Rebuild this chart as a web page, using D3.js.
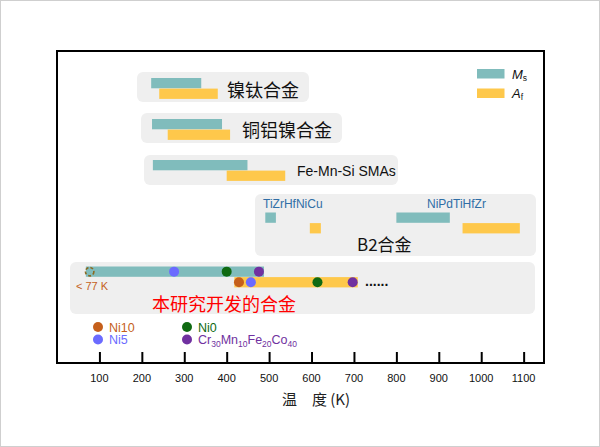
<!DOCTYPE html>
<html>
<head>
<meta charset="utf-8">
<script src="https://cdn.jsdelivr.net/npm/d3@7"></script>
<style>
  body { margin: 0; background: #fff; }
  svg { display: block; }
</style>
</head>
<body>
<svg id="chart" width="600" height="447"></svg>
<script>
// data (temperatures in K)
const groups = ["镍钛合金", "铜铝镍合金", "Fe-Mn-Si SMAs", "B2合金", "本研究开发的合金"];
const msRanges = [
  { group: "镍钛合金", start: 222, end: 340 },
  { group: "铜铝镍合金", start: 224, end: 389 },
  { group: "Fe-Mn-Si SMAs", start: 226, end: 449 },
  { group: "B2合金", start: 491, end: 516 },
  { group: "B2合金", start: 800, end: 926 },
  { group: "本研究开发的合金", start: 68, end: 488 }
];
const afRanges = [
  { group: "镍钛合金", start: 241, end: 379 },
  { group: "铜铝镍合金", start: 261, end: 408 },
  { group: "Fe-Mn-Si SMAs", start: 400, end: 538 },
  { group: "B2合金", start: 596, end: 622 },
  { group: "B2合金", start: 956, end: 1091 },
  { group: "本研究开发的合金", start: 418, end: 709 }
];
const alloys = ["Ni10", "Ni5", "Ni0", "Cr30Mn10Fe20Co40"];
const alloyMs = [77, 276, 400, 476];
const alloyAf = [429, 457, 614, 697];
const tickValues = [100, 200, 300, 400, 500, 600, 700, 800, 900, 1000, 1100];

// layout
const svg = d3.select("#chart");
const frame = { left: 57, right: 544, top: 51, bottom: 363 };
const x = d3.scaleLinear().domain([0, 1148]).range([frame.left, frame.right]);
const rowY = d3.scaleOrdinal(groups, [78, 119, 160, 212.5, 266.5]);
const barH = 10.3;
const panels = [
  { x0: 137, x1: 309, y0: 72, y1: 102 },
  { x0: 141, x1: 342, y0: 113, y1: 143 },
  { x0: 144, x1: 398, y0: 155, y1: 185 },
  { x0: 255, x1: 536, y0: 194, y1: 256 },
  { x0: 70, x1: 535, y0: 262, y1: 314 }
];
const msColor = "#80bcbc", afColor = "#fec84b";
const alloyColor = d3.scaleOrdinal(alloys, ["#c55f1b", "#6b6bff", "#0f6a12", "#7031a0"]);
const latin = "Liberation Sans, Arial, sans-serif";
const cjk = "Noto Sans CJK SC, sans-serif";

svg.append("rect").attr("x", 0.5).attr("y", 0.5).attr("width", 599).attr("height", 446)
  .attr("fill", "#fff").attr("stroke", "#cfcfcf");

svg.append("g").selectAll("rect").data(panels).join("rect")
  .attr("x", d => d.x0).attr("y", d => d.y0)
  .attr("width", d => d.x1 - d.x0).attr("height", d => d.y1 - d.y0)
  .attr("rx", 6).attr("fill", "#efefef");

// frame + axis
svg.append("rect").attr("x", frame.left).attr("y", frame.top)
  .attr("width", frame.right - frame.left).attr("height", frame.bottom - frame.top)
  .attr("fill", "none").attr("stroke", "#000").attr("stroke-width", 2);

const axis = d3.axisTop(x).tickValues(tickValues).tickSize(11).tickFormat("");
const gAxis = svg.append("g").attr("transform", `translate(0,${frame.bottom})`).call(axis);
gAxis.select(".domain").remove();
gAxis.selectAll(".tick line").attr("stroke", "#000").attr("stroke-width", 2);

svg.append("g").selectAll("text").data(tickValues).join("text")
  .attr("x", d => x(d)).attr("y", 382).attr("text-anchor", "middle")
  .attr("font-family", latin).attr("font-size", 11).attr("fill", "#111")
  .text(d => d);

svg.append("text").attr("x", 316).attr("y", 405).attr("text-anchor", "middle")
  .attr("font-family", cjk).attr("font-size", 15).attr("fill", "#222")
  .text("温\u3000度 (K)");

// bars
svg.append("g").selectAll("rect").data(msRanges).join("rect")
  .attr("x", d => x(d.start)).attr("y", d => rowY(d.group))
  .attr("width", d => x(d.end) - x(d.start)).attr("height", barH)
  .attr("fill", msColor);
svg.append("g").selectAll("rect").data(afRanges).join("rect")
  .attr("x", d => x(d.start)).attr("y", d => rowY(d.group) + barH + 0.3)
  .attr("width", d => x(d.end) - x(d.start)).attr("height", barH)
  .attr("fill", afColor);

// group labels
const labels = [
  { text: "镍钛合金", x: 227, y: 89, size: 18, font: cjk },
  { text: "铜铝镍合金", x: 242, y: 129, size: 18, font: cjk },
  { text: "Fe-Mn-Si SMAs", x: 297, y: 171, size: 14, font: latin },
  { text: "B2合金", x: 357, y: 243, size: 17, font: cjk }
];
svg.append("g").selectAll("text").data(labels).join("text")
  .attr("x", d => d.x).attr("y", d => d.y).attr("dominant-baseline", "central")
  .attr("font-family", d => d.font).attr("font-size", d => d.size).attr("fill", "#111")
  .text(d => d.text);

svg.append("text").attr("x", 263).attr("y", 207.5).attr("font-family", latin)
  .attr("font-size", 12).attr("fill", "#2f6ea6").text("TiZrHfNiCu");
svg.append("text").attr("x", 427).attr("y", 207.5).attr("font-family", latin)
  .attr("font-size", 12).attr("fill", "#2f6ea6").text("NiPdTiHfZr");

// this work: points
const r = 5;
const yMs = rowY(groups[4]) + barH / 2, yAf = rowY(groups[4]) + barH * 1.5 + 0.3;
const gPts = svg.append("g");
gPts.selectAll("circle.ms").data(alloys.slice(1)).join("circle")
  .attr("class", "ms").attr("cx", (d, i) => x(alloyMs[i + 1])).attr("cy", yMs)
  .attr("r", r).attr("fill", d => alloyColor(d));
gPts.append("circle").attr("cx", x(alloyMs[0])).attr("cy", yMs).attr("r", r - 0.8)
  .attr("fill", "none").attr("stroke", "#8a6a22").attr("stroke-width", 1.6)
  .attr("stroke-dasharray", "3,2");
gPts.selectAll("circle.af").data(alloys).join("circle")
  .attr("class", "af").attr("cx", (d, i) => x(alloyAf[i])).attr("cy", yAf)
  .attr("r", r).attr("fill", d => alloyColor(d));

svg.append("text").attr("x", 76).attr("y", 290).attr("font-family", latin)
  .attr("font-size", 11).attr("fill", "#c55f1b").text("< 77 K");
svg.append("text").attr("x", 365).attr("y", 286).attr("font-family", latin)
  .attr("font-size", 14).attr("font-weight", "bold").attr("fill", "#111").text("......");
svg.append("text").attr("x", 152).attr("y", 303).attr("dominant-baseline", "central")
  .attr("font-family", cjk).attr("font-size", 18).attr("fill", "#ff0000").text("本研究开发的合金");

// alloy legend
const legPos = [[98, 327], [98, 339.5], [187, 327], [187, 339.5]];
const gLeg = svg.append("g");
gLeg.selectAll("circle").data(alloys).join("circle")
  .attr("cx", (d, i) => legPos[i][0]).attr("cy", (d, i) => legPos[i][1])
  .attr("r", r).attr("fill", d => alloyColor(d));
gLeg.selectAll("text").data(alloys).join("text")
  .attr("x", (d, i) => legPos[i][0] + 11).attr("y", (d, i) => legPos[i][1] + 4.5)
  .attr("font-family", latin).attr("font-size", 12.5).attr("fill", d => alloyColor(d))
  .each(function (d) {
    const t = d3.select(this);
    const parts = d.match(/[A-Za-z]+|\d+/g);
    if (d.startsWith("Ni")) { t.text(d); return; }
    parts.forEach(p => {
      if (/\d/.test(p)) {
        t.append("tspan").attr("font-size", 8.5).attr("dy", 3).text(p);
      } else {
        t.append("tspan").attr("dy", -3).text(p);
      }
    });
    t.select("tspan").attr("dy", 0);
  });

// Ms / Af legend
const keys = [{ name: "M", sub: "s", color: msColor, y: 69 }, { name: "A", sub: "f", color: afColor, y: 88.5 }];
const gKey = svg.append("g");
gKey.selectAll("rect").data(keys).join("rect")
  .attr("x", 477).attr("y", d => d.y).attr("width", 27.5).attr("height", 9.5)
  .attr("fill", d => d.color);
gKey.selectAll("text").data(keys).join("text")
  .attr("x", 512).attr("y", d => d.y + 9.5).attr("font-family", latin)
  .attr("font-size", 13).attr("font-style", "italic").attr("fill", "#111")
  .each(function (d) {
    const t = d3.select(this);
    t.append("tspan").text(d.name);
    t.append("tspan").attr("font-size", 8.5).attr("dy", 2).attr("font-style", "normal").text(d.sub);
  });
</script>
</body>
</html>
